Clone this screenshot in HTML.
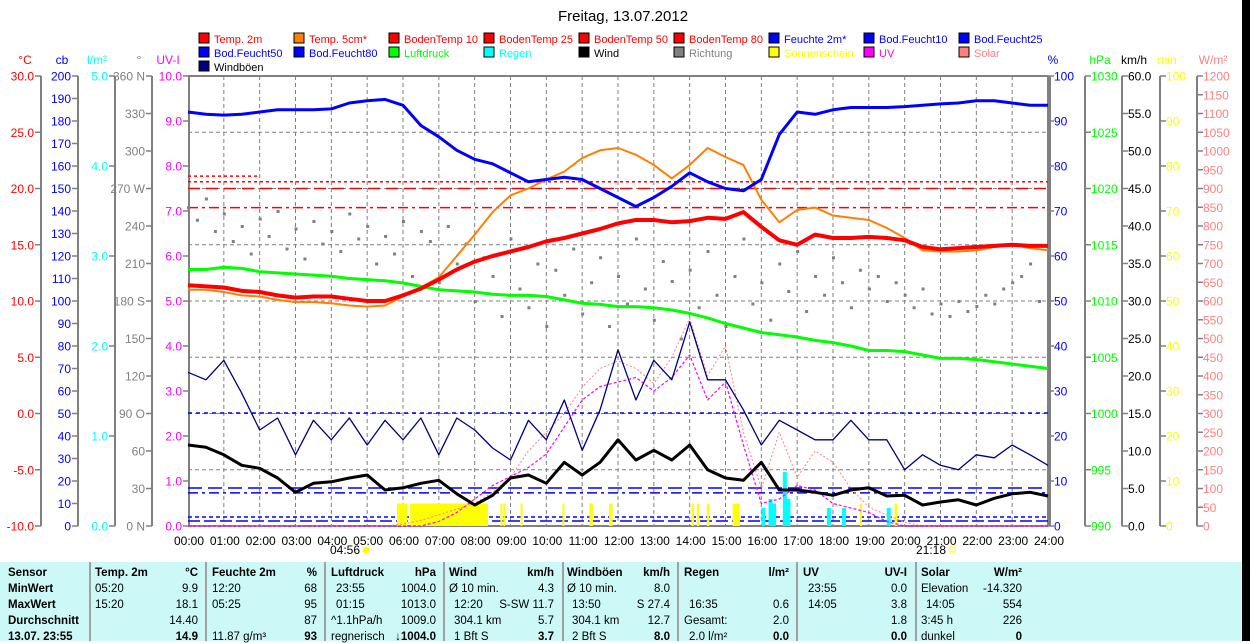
<!DOCTYPE html>
<html><head><meta charset="utf-8">
<style>
html,body{margin:0;padding:0;background:#fff;}
body{width:1250px;height:641px;overflow:hidden;position:relative;font-family:"Liberation Sans",sans-serif;}
svg{position:absolute;left:0;top:0;}
#tbl{position:absolute;left:0;top:562px;width:1242px;height:79px;background:#ccf8f8;font-size:11.5px;}
#tbl .c{position:absolute;white-space:nowrap;}
#tbl .b{font-weight:bold;}
#tbl .sep{position:absolute;top:0;width:2px;height:79px;background:#a0a0a0;}
#rstrip{position:absolute;left:1242px;top:0;width:8px;height:641px;background:#000;}
</style></head>
<body>
<svg id="chart" width="1250" height="641"></svg>
<div id="tbl"></div>
<div id="rstrip"></div>
<script>
// ---------- data ----------
const hours = [0,0.5,1,1.5,2,2.5,3,3.5,4,4.5,5,5.5,6,6.5,7,7.5,8,8.5,9,9.5,10,10.5,11,11.5,12,12.5,13,13.5,14,14.5,15,15.5,16,16.5,17,17.5,18,18.5,19,19.5,20,20.5,21,21.5,22,22.5,23,23.5,24];
const temp2m = [11.4,11.3,11.2,10.9,10.8,10.5,10.3,10.4,10.4,10.2,10.0,10.0,10.5,11.1,11.9,12.8,13.5,14.0,14.4,14.8,15.3,15.6,16.0,16.4,16.9,17.2,17.2,17.0,17.1,17.4,17.3,17.9,16.6,15.4,15.0,15.9,15.6,15.6,15.7,15.6,15.4,14.8,14.6,14.7,14.8,14.9,15.0,14.9,14.9];
const temp5cm = [11.0,11.0,10.8,10.5,10.4,10.1,9.9,9.9,9.8,9.6,9.5,9.6,10.4,11.2,12.1,14.0,15.9,17.9,19.4,20.0,20.8,21.5,22.7,23.4,23.6,23.0,22.1,20.9,22.1,23.6,22.8,22.1,19.0,17.0,18.1,18.3,17.6,17.4,17.2,16.5,15.6,14.5,14.4,14.4,14.5,14.8,15.0,14.7,14.5];
const humidity = [92,91.5,91.3,91.5,92,92.5,92.5,92.5,92.7,94,94.5,94.8,93.5,89,86.5,83.5,81.5,80.5,78.5,76.5,77,77.5,77,75,73,71,73,75.5,78.5,76.5,75,74.5,77,87,92,91.5,92.5,93,93,93,93.2,93.5,93.8,94,94.5,94.5,94,93.5,93.5];
const pressure = [1012.8,1012.8,1013.0,1012.9,1012.6,1012.5,1012.4,1012.3,1012.2,1012.0,1011.9,1011.8,1011.6,1011.3,1011.0,1010.9,1010.8,1010.6,1010.5,1010.5,1010.4,1010.1,1009.8,1009.7,1009.5,1009.5,1009.4,1009.2,1008.9,1008.5,1008.0,1007.6,1007.2,1007.0,1006.8,1006.5,1006.3,1006.0,1005.6,1005.6,1005.5,1005.2,1004.9,1004.9,1004.8,1004.6,1004.4,1004.2,1004.0];
const wind = [10.8,10.5,9.5,8.1,7.7,6.4,4.5,5.7,5.9,6.4,6.8,4.8,5.1,5.7,6.1,4.3,2.8,4.1,6.4,6.8,5.7,8.5,6.8,8.5,11.5,8.8,10.1,8.8,10.8,7.5,6.4,6.1,8.5,4.8,4.8,4.5,4.1,4.8,5.1,4.0,4.1,2.8,3.2,3.5,2.8,3.7,4.3,4.5,4.0];
const gusts = [20.5,19.5,22.1,17.7,12.8,14.4,9.5,14.1,11.5,14.4,10.8,14.1,11.5,14.4,9.5,14.4,12.8,10.4,8.8,14.1,11.5,16.8,10.1,15.5,23.5,16.8,22.1,19.5,27.2,19.5,19.5,15.5,10.8,14.1,12.8,11.5,11.5,14.1,11.5,11.5,7.5,9.5,8.1,7.5,9.5,9.1,10.8,9.5,8.1];
const uvIndex = [0,0,0,0,0,0,0,0,0,0,0,0,0,0,0.1,0.3,0.6,0.9,1.1,1.3,1.6,2.2,2.8,3.1,3.2,3.3,3.0,3.3,3.8,2.8,3.2,1.8,0.5,0.6,0.9,0.8,0.5,0.4,0.3,0.1,0,0,0,0,0,0,0,0,0];
const solar = [0,0,0,0,0,0,0,0,0,0,0,0,5,15,30,45,60,90,130,200,250,300,370,420,440,420,380,450,554,400,480,250,100,250,130,200,170,100,50,30,10,0,0,0,0,0,0,0,0];
const dirHours = [0,0.25,0.5,0.75,1,1.25,1.5,1.75,2,2.25,2.5,2.75,3,3.25,3.5,3.75,4,4.25,4.5,4.75,5,5.25,5.5,5.75,6,6.25,6.5,6.75,7,7.25,7.5,7.75,8,8.25,8.5,8.75,9,9.25,9.5,9.75,10,10.25,10.5,10.75,11,11.25,11.5,11.75,12,12.25,12.5,12.75,13,13.25,13.5,13.75,14,14.25,14.5,14.75,15,15.25,15.5,15.75,16,16.25,16.5,16.75,17,17.25,17.5,17.75,18,18.25,18.5,18.75,19,19.25,19.5,19.75,20,20.25,20.5,20.75,21,21.25,21.5,21.75,22,22.25,22.5,22.75,23,23.25,23.5,23.75];
const direction = [255,245,262,236,250,228,240,218,246,232,252,222,238,214,244,226,236,220,250,230,240,210,232,218,244,200,236,228,195,240,210,226,180,215,200,168,230,190,175,210,160,205,185,222,170,195,215,160,200,178,230,190,165,212,196,150,205,175,220,185,160,200,230,178,195,165,210,188,220,172,200,185,215,195,175,205,190,200,180,195,185,175,190,170,178,168,180,172,176,185,178,190,195,200,210,180];
const rainHours = [16.0,16.2,16.3,16.6,16.7,17.83,18.25,19.5];
const rainAmount = [0.2,0.3,0.25,0.6,0.3,0.2,0.2,0.2];
const sunStart = [5.83,6.2,8.72,8.8,9.28,10.45,11.2,11.75,14.05,14.2,14.48,15.2,18.75,19.72];
const sunEnd   = [6.12,8.37,8.77,8.85,9.33,10.5,11.3,11.85,14.12,14.27,14.55,15.4,18.8,19.8];
const sunMinutes=[5,5,5,5,5,5,5,5,5,5,5,5,5,5];
const soilTempLevels = [20.6,20.0,18.3,21.1];
const soilMoistLevels = [50.2,16.9,14.7,4.0,2.2];
const hourLabels = ["00:00","01:00","02:00","03:00","04:00","05:00","06:00","07:00","08:00","09:00","10:00","11:00","12:00","13:00","14:00","15:00","16:00","17:00","18:00","19:00","20:00","21:00","22:00","23:00","24:00"];

// ---------- geometry ----------
const X0=188,X1=1048,Y0=76,Y1=526;
const xH=h=>X0+(X1-X0)*h/24;
const lin=(v,lo,hi)=>Y1-(Y1-Y0)*(v-lo)/(hi-lo);
const yT=v=>lin(v,-10,30), yP=v=>lin(v,0,100), yHPa=v=>lin(v,990,1030), yK=v=>lin(v,0,60);
const yUV=v=>lin(v,0,10), yW=v=>lin(v,0,1200), yMin=v=>lin(v,0,100), yL=v=>lin(v,0,5), yCb=v=>lin(v,0,200), yDeg=v=>lin(v,0,360);

const svg=document.getElementById('chart');
const NS='http://www.w3.org/2000/svg';
function el(tag,attrs,parent){const e=document.createElementNS(NS,tag);for(const k in attrs)e.setAttribute(k,attrs[k]);(parent||svg).appendChild(e);return e;}
function txt(x,y,s,fill,anchor,size,parent){const t=el('text',{x:x,y:y,fill:fill,'text-anchor':anchor||'start','font-size':size||12,'font-family':'Liberation Sans, sans-serif'},parent);t.textContent=s;return t;}

// title
let t=txt(623,21,'Freitag, 13.07.2012','#000','middle',15);



// legend
const legend=[
 ['Temp. 2m','#ff0000','#ff0000'],['Temp. 5cm*','#ff8000','#ff0000'],['BodenTemp 10','#ff0000','#ff0000'],['BodenTemp 25','#ff0000','#ff0000'],['BodenTemp 50','#ff0000','#ff0000'],['BodenTemp 80','#ff0000','#ff0000'],['Feuchte 2m*','#0000ff','#0000ff'],['Bod.Feucht10','#0000ff','#0000ff'],['Bod.Feucht25','#0000ff','#0000ff'],
 ['Bod.Feucht50','#0000ff','#0000ff'],['Bod.Feucht80','#0000ff','#0000ff'],['Luftdruck','#00ff00','#00ff00'],['Regen','#00ffff','#00ffff'],['Wind','#000000','#000000'],['Richtung','#808080','#808080'],['Sonnenschein','#ffff00','#ffff00'],['UV','#ff00ff','#ff00ff'],['Solar','#ff8080','#ff8080'],
 ['Windböen','#000080','#000000']];
legend.forEach((L,i)=>{
 const col=i%9,row=Math.floor(i/9);
 const g=el('g',{});
 
 
 const x=199+col*95,y=33+row*14;
 el('rect',{x:x,y:y,width:10,height:10,fill:L[1],stroke:'#000','stroke-width':1},g);
 txt(x+15,y+10,L[0],L[2],'start',11,g);
});

// axes
function axis(name,xl,vals,yf,fmt,color,side,title,tx){
 const g=el('g',{});
 
 
 el('line',{x1:xl,y1:Y0,x2:xl,y2:Y1,stroke:'#808080','stroke-width':2},g);
 vals.forEach(v=>{const y=yf(v);
  if(side<0){el('line',{x1:xl-6,y1:y,x2:xl,y2:y,stroke:'#808080','stroke-width':1.5},g);txt(xl-7,y+4.5,fmt(v),color,'end',12,g);}
  else{el('line',{x1:xl,y1:y,x2:xl+6,y2:y,stroke:'#808080','stroke-width':1.5},g);txt(xl+6,y+4.5,fmt(v),color,'start',12,g);}
 });
 txt(tx,64,title,color,'middle',12,g);
}
const rng=(a,b,s)=>{const r=[];for(let v=a;v<=b+1e-9;v+=s)r.push(+v.toFixed(4));return r;};
axis('celsius-axis',41,rng(-10,30,5),yT,v=>v.toFixed(1),'#ff0000',-1,'°C',25);
axis('soil-moisture-axis',78,rng(0,200,10),yCb,v=>String(v),'#0000ff',-1,'cb',62);
axis('rain-axis',115,rng(0,5,1),yL,v=>v.toFixed(1),'#00ffff',-1,'l/m²',97);
const dirName={0:'N',90:'O',180:'S',270:'W',360:'N'};
axis('direction-axis',152,rng(0,360,30),yDeg,v=>dirName[v]!==undefined?v+' '+dirName[v]:String(v),'#808080',-1,'°',139);
axis('uv-axis',189,rng(0,10,1),yUV,v=>v.toFixed(1),'#ff00ff',-1,'UV-I',168);
axis('humidity-axis',1048,rng(0,100,10),yP,v=>String(v),'#0000ff',1,'%',1053);
axis('pressure-axis',1085,rng(990,1030,5),yHPa,v=>String(v),'#00ff00',1,'hPa',1100);
axis('wind-axis',1122,rng(0,60,5),yK,v=>v.toFixed(1),'#000000',1,'km/h',1134);
axis('sunshine-axis',1160,rng(0,100,10),yMin,v=>String(v),'#ffff00',1,'min',1167);
axis('solar-axis',1197,rng(0,1200,50),yW,v=>String(v),'#ff8080',1,'W/m²',1213);

// grid
const grid=el('g',{});


for(let h=1;h<24;h++)el('line',{x1:xH(h),y1:Y0,x2:xH(h),y2:Y1,stroke:'#808080','stroke-dasharray':'4,3'},grid);
for(let v=-5;v<30;v+=5)el('line',{x1:X0,y1:yT(v),x2:X1,y2:yT(v),stroke:'#808080','stroke-dasharray':'4,3'},grid);
el('line',{x1:X0,y1:Y0,x2:X1,y2:Y0,stroke:'#808080','stroke-width':2},grid);
el('line',{x1:X0,y1:Y1,x2:X1,y2:Y1,stroke:'#808080','stroke-width':2},grid);
el('line',{x1:X1+2,y1:Y0,x2:X1+2,y2:Y1,stroke:'#808080','stroke-width':2},grid);

// x labels
hourLabels.forEach((s,i)=>{const tt=txt(xH(i)+1,545,s,'#000','middle',12);
 
 });
txt(345,554,'04:56','#000','middle',12);
el('circle',{cx:366,cy:550,r:3.5,fill:'#ffff00'});
txt(931,554,'21:18','#000','middle',12);
el('rect',{x:950,y:547,width:5,height:5,fill:'none',stroke:'#ffff00'});

// soil lines
const stDash=['3,3','12,6','10,4,3,4','3,3'];
soilTempLevels.forEach((v,i)=>{const l=el('line',{x1:X0,y1:yT(v),x2:i==3?xH(2):X1,y2:yT(v),stroke:'#ff0000','stroke-width':1.5,'stroke-dasharray':stDash[i]});
 
 });
const smDash=['4,4','14,6','10,4,3,4','4,3','12,4'];
soilMoistLevels.forEach((v,i)=>{const l=el('line',{x1:X0,y1:yCb(v),x2:X1,y2:yCb(v),stroke:'#0000ff','stroke-width':1.5,'stroke-dasharray':smDash[i]});
 
 });

// sunshine bars
sunStart.forEach((s,i)=>{const y=yMin(sunMinutes[i]);const r=el('rect',{x:xH(s),y:y,width:Math.max(2,xH(sunEnd[i])-xH(s)),height:Y1-y,fill:'#ffff00'});
 
 });
// rain bars
rainHours.forEach((h,i)=>{const y=yL(rainAmount[i]);const r=el('rect',{x:xH(h),y:y,width:4,height:Y1-y,fill:'#00ffff'});
 
 });

// direction dots
direction.forEach((d,i)=>{const r=el('rect',{x:xH(dirHours[i])-1,y:yDeg(d)-1,width:3,height:3,fill:'#808080'});
 
 });

function line(name,arr,yf,color,w,dash){
 const pts=arr.map((v,i)=>xH(hours[i]).toFixed(1)+','+yf(v).toFixed(1)).join(' ');
 const p=el('polyline',{points:pts,fill:'none',stroke:color,'stroke-width':w,'stroke-linejoin':'round'});
 if(dash)p.setAttribute('stroke-dasharray',dash);
 
 
}
line('solar-line',solar,yW,'#ff8080',1,'2,2');
line('uv-line',uvIndex,yUV,'#ff00ff',1.2,'3,2');
line('pressure-line',pressure,yHPa,'#00ff00',3);
line('gust-line',gusts,yK,'#000080',1.3);
line('wind-line',wind,yK,'#000000',3);
line('temp-5cm-line',temp5cm,yT,'#ff8000',2);
line('temp-2m-line',temp2m,yT,'#ff0000',4);
line('humidity-line',humidity,yP,'#0000ff',3);

// ---------- table ----------
const tbl=document.getElementById('tbl');
function cell(x,row,s,bold,right){const d=document.createElement('div');d.className='c'+(bold?' b':'');d.style.top=(5+row*16)+'px';
 if(right){d.style.right=(1242-x)+'px';}else d.style.left=x+'px';d.textContent=s;
 
 tbl.appendChild(d);}
[89,205,324,443,562,677,796,915].forEach(x=>{const s=document.createElement('div');s.className='sep';s.style.left=x+'px';tbl.appendChild(s);});
['Sensor','MinWert','MaxWert','Durchschnitt','13.07. 23:55'].forEach((s,i)=>cell(8,i,s,true));
const cols=[
 [95,198,['Temp. 2m','°C'],[['05:20','9.9'],['15:20','18.1'],['','14.40'],['','14.9']]],
 [212,317,['Feuchte 2m','%'],[['12:20','68'],['05:25','95'],['','87'],['11.87 g/m³','93']]],
 [331,436,['Luftdruck','hPa'],[[' 23:55','1004.0'],[' 01:15','1013.0'],['^1.1hPa/h','1009.0'],['regnerisch','↓1004.0']]],
 [449,554,['Wind','km/h'],[['Ø 10 min.','4.3'],[' 12:20','S-SW 11.7'],[' 304.1 km','5.7'],[' 1 Bft S','3.7']]],
 [567,670,['Windböen','km/h'],[['Ø 10 min.','8.0'],[' 13:50','S 27.4'],[' 304.1 km','12.7'],[' 2 Bft S','8.0']]],
 [684,789,['Regen','l/m²'],[['',''],[' 16:35','0.6'],['Gesamt:','2.0'],[' 2.0 l/m²','0.0']]],
 [803,907,['UV','UV-I'],[[' 23:55','0.0'],[' 14:05','3.8'],['','1.8'],['','0.0']]],
 [921,1022,['Solar','W/m²'],[['Elevation','-14.320'],[' 14:05','554'],['3:45 h','226'],['dunkel','0']]]
];
cols.forEach(c=>{cell(c[0],0,c[2][0],true);cell(c[1],0,c[2][1],true,true);
 c[3].forEach((r,i)=>{cell(c[0]+(r[0].startsWith(' ')?5:0),i+1,r[0].trim(),false);cell(c[1],i+1,r[1],i==3,true);});});
</script>
</body></html>
